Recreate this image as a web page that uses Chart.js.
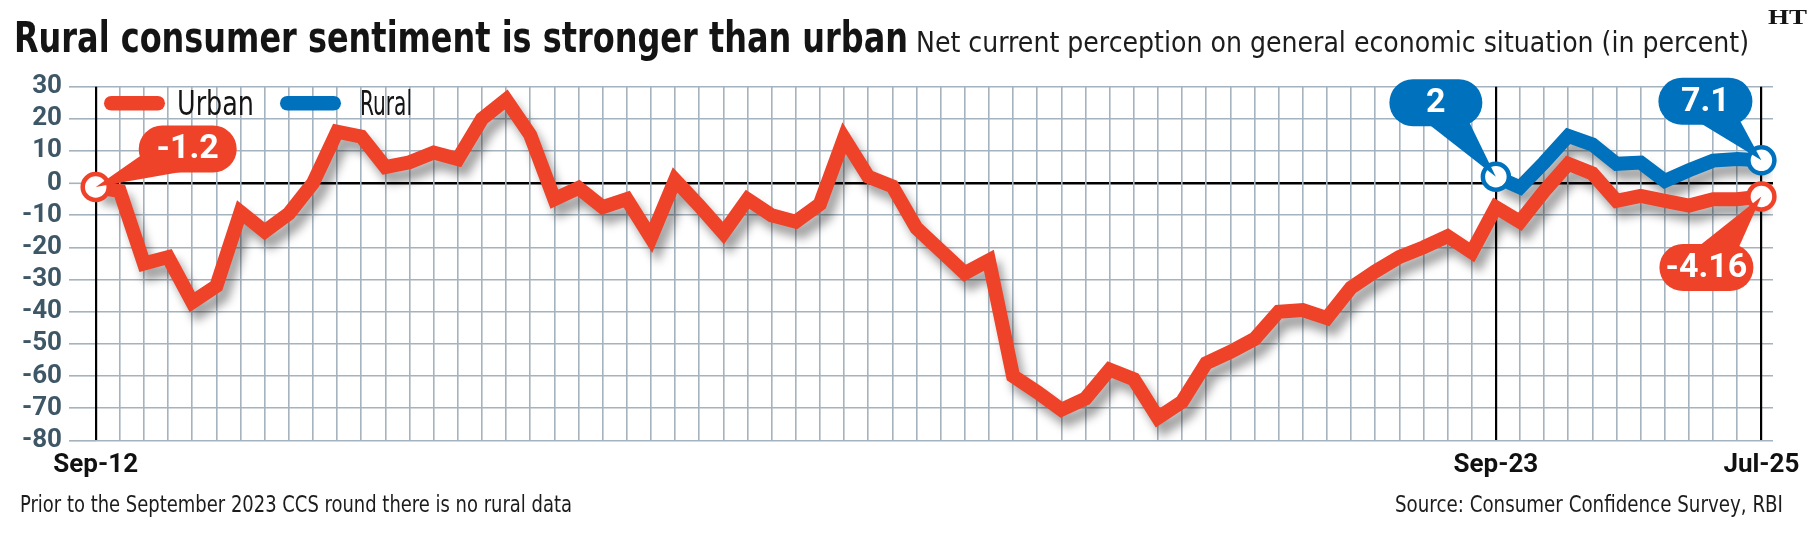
<!DOCTYPE html>
<html><head><meta charset="utf-8">
<script src="https://cdn.jsdelivr.net/npm/chart.js@4.4.1/dist/chart.umd.min.js"></script>
<style>
html,body{margin:0;padding:0;background:#fff;}
#wrap{position:relative;width:1814px;height:537px;overflow:hidden;background:#fff;}
canvas{position:absolute;left:0;top:0;}
.t{position:absolute;white-space:nowrap;line-height:1;transform-origin:0 0;color:#141414;}
#title{font-family:"Liberation Sans Narrow","DejaVu Sans Condensed",sans-serif;font-weight:bold;font-size:42px;}
#sub{font-family:"Liberation Sans Narrow","DejaVu Sans Condensed",sans-serif;font-size:28px;color:#1c1c1c;}
.foot{font-family:"Liberation Sans Narrow","DejaVu Sans Condensed",sans-serif;font-size:23px;color:#1c1c1c;}
#ht{font-family:"Liberation Serif","DejaVu Serif",serif;font-weight:bold;font-size:21px;}
</style></head><body>
<div id="wrap">
<canvas id="c" width="1814" height="537"></canvas>
<div class="t" id="title">Rural consumer sentiment is stronger than urban</div>
<div class="t" id="sub">Net current perception on general economic situation (in percent)</div>
<div class="t" id="ht">HT</div>
<div class="t foot" id="f1">Prior to the September 2023 CCS round there is no rural data</div>
<div class="t foot" id="f2">Source: Consumer Confidence Survey, RBI</div>
</div>
<script>
// ---------- DATA ----------
const categories = [
 'Sep-12','Dec-12','Mar-13','Jun-13','Sep-13','Dec-13','Mar-14','Jun-14','Sep-14','Dec-14',
 'Mar-15','Jun-15','Sep-15','Dec-15','Mar-16','Jun-16','Sep-16',
 'Nov-16','Jan-17','Mar-17','May-17','Jul-17','Sep-17','Nov-17','Jan-18','Mar-18','May-18',
 'Jul-18','Sep-18','Nov-18','Jan-19','Mar-19','May-19','Jul-19','Sep-19','Nov-19','Jan-20',
 'Mar-20','May-20','Jul-20','Sep-20','Nov-20','Jan-21','Mar-21','May-21','Jul-21','Sep-21',
 'Nov-21','Jan-22','Mar-22','May-22','Jul-22','Sep-22','Nov-22','Jan-23','Mar-23','May-23',
 'Jul-23','Sep-23','Nov-23','Jan-24','Mar-24','May-24','Jul-24','Sep-24','Nov-24','Jan-25',
 'Mar-25','May-25','Jul-25'
];
const urban = [
 -1.2, -2.5, -25, -23, -37, -32, -9, -15, -9.5, 0,
 16, 14.5, 5, 6.5, 9.5, 7.5, 20, 26, 15, -5,
 -1.5, -7.5, -5, -17, 1, -7, -15.5, -5, -10, -12,
 -6.5, 14, 2, -1, -14, -21, -28, -24, -60, -65,
 -70.5, -67, -58, -61, -73, -68, -56, -52.5, -48.5, -40,
 -39.5, -42, -32.5, -27.5, -23, -20, -16.5, -21.5, -7.5, -12,
 -2.5, 6, 3, -5.5, -4, -5.5, -7, -5, -5, -4.16
];
const ruralStart = 'Sep-23';
const rural = [2, -1.3, 6.4, 14.7, 12, 6, 6.4, 0.7, 4, 7, 7.5, 7.1];
const seriesNames = ['Urban', 'Rural'];
const xTickLabels = ['Sep-12', 'Sep-23', 'Jul-25'];
const yTickLabels = [30, 20, 10, 0, -10, -20, -30, -40, -50, -60, -70, -80];

// ---------- STYLE ----------
const RED = '#ee4229', BLUE = '#0071bc', GRID = '#a4b3be';
const COND = '"Liberation Sans Narrow","DejaVu Sans Condensed",sans-serif';

// place real HTML text, squeezed to the measured width
function place(id, left, baseline, width, alignRight) {
  const el = document.getElementById(id);
  const fs = parseFloat(getComputedStyle(el).fontSize);
  const w = el.getBoundingClientRect().width;
  el.style.transform = 'scaleX(' + (width / w) + ')';
  el.style.left = (alignRight ? left - width : left) + 'px';
  el.style.top = (baseline - 0.8465 * fs) + 'px';
}
place('title', 14, 53, 894);
place('sub', 916, 53, 833);
place('ht', 1768, 25, 39);
place('f1', 20, 512, 552);
place('f2', 1783, 512, 388, true);

// ---------- BUILD ----------
const urbanPts = urban.map((v, i) => ({x: i, y: v}));
const r0 = categories.indexOf(ruralStart);
const ruralPts = rural.map((v, k) => ({x: r0 + k, y: v}));
const endMarker = (pts) => (c) => (c.dataIndex === 0 || c.dataIndex === pts.length - 1) ? 13 : 0;
const blackX = xTickLabels.map(l => categories.indexOf(l));

const shadowPlugin = {
  id: 'shadow',
  beforeDatasetDraw(chart, args) {
    if (chart.data.datasets[args.index].shadow) {
      const ctx = chart.ctx; ctx.save();
      ctx.shadowColor = 'rgba(0,0,0,0.36)';
      ctx.shadowBlur = 10; ctx.shadowOffsetX = 6; ctx.shadowOffsetY = 10;
    }
  },
  afterDatasetDraw(chart, args) {
    if (chart.data.datasets[args.index].shadow) chart.ctx.restore();
  }
};

// legend (drawn inside the plot, top-left)
const legendLayout = [
  {bar: 104, text: 177, w: 77},
  {bar: 280, text: 360, w: 52}
];
const legendPlugin = {
  id: 'insideLegend',
  afterDraw(chart) {
    const ctx = chart.ctx;
    ctx.save();
    seriesNames.forEach((n, i) => {
      const L = legendLayout[i];
      ctx.fillStyle = chart.data.datasets[i].borderColor;
      ctx.beginPath(); ctx.roundRect(L.bar, 96, 61, 14.5, 7.25); ctx.fill();
      ctx.font = '33px ' + COND;
      const mw = ctx.measureText(n).width;
      ctx.save();
      ctx.translate(L.text, 115); ctx.scale(L.w / mw, 1.04);
      ctx.fillStyle = '#151515'; ctx.textBaseline = 'alphabetic';
      ctx.fillText(n, 0, 0);
      ctx.restore();
    });
    ctx.restore();
  }
};

const callouts = [
  {ds: 0, idx: 0, text: String(urban[0]), color: RED, dx: 92, dy: -38, w: 98},
  {ds: 1, idx: 0, text: String(rural[0]), color: BLUE, dx: -60, dy: -74, w: 93},
  {ds: 1, idx: rural.length - 1, text: String(rural[rural.length - 1]), color: BLUE, dx: -56, dy: -59, w: 94},
  {ds: 0, idx: urban.length - 1, text: String(urban[urban.length - 1]), color: RED, dx: -55, dy: 71, w: 94}
];
const calloutPlugin = {
  id: 'callouts',
  afterDatasetsDraw(chart) {
    const ctx = chart.ctx;
    callouts.forEach(c => {
      const el = chart.getDatasetMeta(c.ds).data[c.idx];
      const px = el.x, py = el.y, cx = px + c.dx, cy = py + c.dy;
      const a = Math.atan2(py - cy, px - cx), hw = 22;
      const nx = -Math.sin(a), ny = Math.cos(a);
      ctx.save();
      ctx.fillStyle = c.color;
      ctx.beginPath();
      ctx.moveTo(cx + nx * hw, cy + ny * hw);
      ctx.lineTo(cx - nx * hw, cy - ny * hw);
      ctx.lineTo(px, py);
      ctx.closePath(); ctx.fill();
      const h = 47;
      ctx.beginPath();
      ctx.roundRect(cx - c.w / 2, cy - h / 2, c.w, h, h / 2);
      ctx.fill();
      ctx.fillStyle = '#fff';
      ctx.font = 'bold 34px Roboto';
      ctx.textAlign = 'center'; ctx.textBaseline = 'middle';
      ctx.fillText(c.text, cx, cy + 1);
      ctx.restore();
    });
  }
};

new Chart(document.getElementById('c'), {
  type: 'line',
  data: {
    datasets: [
      {label: seriesNames[0], data: urbanPts, borderColor: RED, backgroundColor: RED, borderWidth: 14,
       pointRadius: 0, tension: 0, borderJoinStyle: 'miter', shadow: true},
      {label: seriesNames[1], data: ruralPts, borderColor: BLUE, backgroundColor: BLUE, borderWidth: 14,
       pointRadius: 0, tension: 0, borderJoinStyle: 'miter', shadow: true},
      {label: 'mu', data: urbanPts, showLine: false, pointRadius: endMarker(urbanPts),
       pointBackgroundColor: '#fff', pointBorderColor: RED, pointBorderWidth: 4.5, clip: false, order: -1},
      {label: 'mr', data: ruralPts, showLine: false, pointRadius: endMarker(ruralPts),
       pointBackgroundColor: '#fff', pointBorderColor: BLUE, pointBorderWidth: 4.5, clip: false, order: -1}
    ]
  },
  options: {
    responsive: false, animation: false, events: [],
    layout: {padding: {top: 86.7, right: 41, bottom: 0, left: 0}},
    scales: {
      x: {
        type: 'linear', min: 0, max: 69.48,
        border: {display: false},
        grid: {
          z: -1, drawTicks: false,
          color: c => blackX.includes(c.tick.value) ? '#000' : (Number.isInteger(c.tick.value) ? GRID : 'rgba(0,0,0,0)'),
          lineWidth: c => blackX.includes(c.tick.value) ? 2.2 : 1.6
        },
        ticks: {
          stepSize: 1, includeBounds: false, autoSkip: false, maxRotation: 0, minRotation: 0,
          padding: 10, color: '#111', font: {family: 'Roboto', weight: 'bold', size: 26},
          callback: v => xTickLabels.includes(categories[v]) ? categories[v] : ''
        },
        afterFit: s => { s.height = 96.7; s.paddingLeft = 0; s.paddingRight = 0; }
      },
      y: {
        min: -80, max: 30,
        border: {display: false},
        grid: {
          z: -2, tickLength: 26.7, tickColor: GRID, tickWidth: 1.6,
          color: c => c.tick.value === 0 ? '#000' : GRID,
          lineWidth: c => c.tick.value === 0 ? 2.6 : 1.6
        },
        afterBuildTicks: s => { s.ticks = yTickLabels.map(v => ({value: v})); },
        ticks: {autoSkip: false, padding: 7, color: '#3e5767', font: {family: 'Roboto', weight: 'bold', size: 26}},
        afterFit: s => { s.width = 95.7; s.paddingTop = 0; s.paddingBottom = 0; }
      }
    },
    plugins: {
      tooltip: {enabled: false},
      legend: {display: false}
    }
  },
  plugins: [shadowPlugin, calloutPlugin, legendPlugin]
});
</script>
</body></html>
